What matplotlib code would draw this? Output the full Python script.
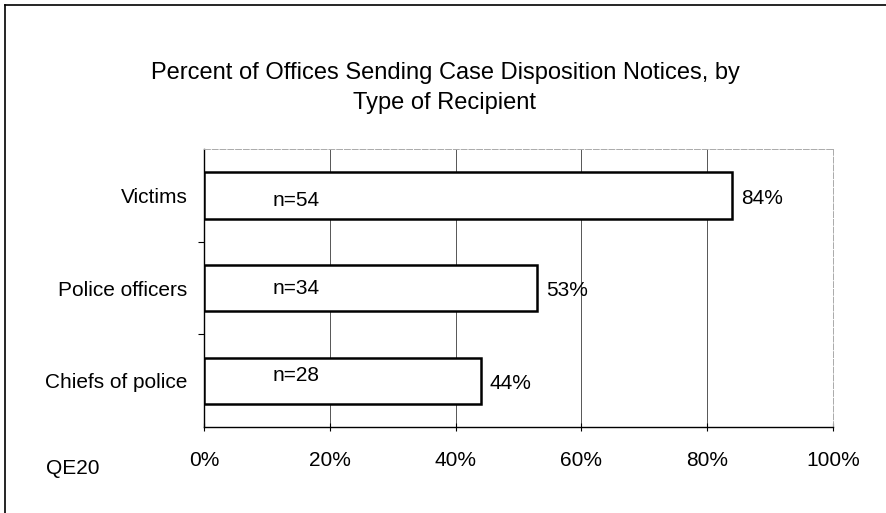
import matplotlib
matplotlib.use("Agg")
import matplotlib.pyplot as plt
from matplotlib.lines import Line2D
from matplotlib.ticker import FixedLocator

plt.rcParams['font.family'] = ['Liberation Sans', 'DejaVu Sans']

categories = ["Victims", "Police officers", "Chiefs of police"]
percents = [84, 53, 44]
n_labels = ["n=54", "n=34", "n=28"]
xticks = [0, 20, 40, 60, 80, 100]
xtick_labels = ["0%", "20%", "40%", "60%", "80%", "100%"]
title = "Percent of Offices Sending Case Disposition Notices, by\nType of Recipient"
note = "QE20"

W, H = 887, 513
fig = plt.figure(figsize=(W / 100, H / 100), dpi=100)
ax = fig.add_axes([204 / W, 1 - 427 / H, (833 - 204) / W, (427 - 149) / H])

ypos = list(range(len(categories)))[::-1]
ax.barh(ypos, percents, height=0.5, color="white", edgecolor="black", linewidth=1.8, zorder=3)
ax.set_xlim(0, 100)
ax.set_ylim(-0.5, 2.5)

n_offsets = [-0.06, 0.0, 0.06]
for y, p, n, off in zip(ypos, percents, n_labels, n_offsets):
    ax.text(p + 1.4, y - 0.03, f"{p}%", va="center", ha="left", fontsize=15, zorder=4)
    ax.text(10.9, y + off, n, va="center", ha="left", fontsize=15, zorder=4)

ax.set_yticks(ypos)
ax.set_yticklabels(categories, fontsize=15)
ax.yaxis.set_minor_locator(FixedLocator([0.5, 1.5]))
ax.tick_params(axis="y", which="major", length=0, pad=12)
ax.tick_params(axis="y", which="minor", length=4, width=0.8, direction="out")

ax.set_xticks(xticks)
ax.set_xticklabels(xtick_labels, fontsize=15)
ax.tick_params(axis="x", length=6, width=0.8, direction="inout", pad=14)

ax.grid(axis="x", color="#555555", linewidth=0.7, zorder=0)
for s in ["top", "right"]:
    ax.spines[s].set_color("#aaaaaa")
    ax.spines[s].set_linestyle((0, (6, 2)))
    ax.spines[s].set_linewidth(0.7)
for s in ["left", "bottom"]:
    ax.spines[s].set_color("black")
    ax.spines[s].set_linewidth(1.0)

fig.text(445 / W, 1 - 88 / H, title, ha="center", va="center", fontsize=17, linespacing=1.45)
fig.text(46 / W, 1 - 468 / H, note, ha="left", va="center", fontsize=15)

# outer frame (top and left edges visible)
fig.add_artist(Line2D([5 / W, 1], [1 - 5 / H, 1 - 5 / H], transform=fig.transFigure, color="black", linewidth=1.2))
fig.add_artist(Line2D([5 / W, 5 / W], [0, 1 - 5 / H], transform=fig.transFigure, color="black", linewidth=1.2))

fig.savefig("out.png", dpi=100)
